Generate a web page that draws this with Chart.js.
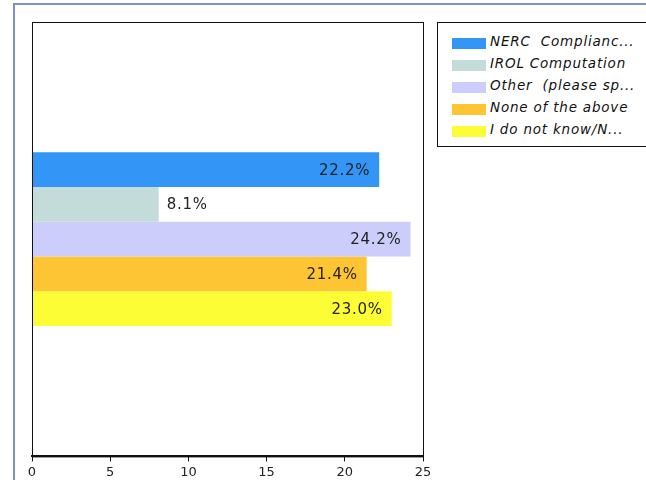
<!DOCTYPE html>
<html>
<head>
<meta charset="utf-8">
<script src="https://cdn.jsdelivr.net/npm/chart.js@4"></script>
<style>
  html, body { margin: 0; padding: 0; background: #fff; }
  body { width: 646px; height: 480px; position: relative; overflow: hidden; }
  #frame { position: absolute; left: 13px; top: 3px; right: -5px; bottom: -5px;
           border-left: 2px solid #7d93c4; border-top: 2px solid #7d93c4; }
  #wrap { position: absolute; left: 0; top: 0; width: 646px; height: 480px; }
  #legend { position: absolute; left: 437px; top: 22px; width: 214px; height: 125px;
            border: 1px solid #111; background: #fff; box-sizing: border-box;
            font-family: "DejaVu Sans", Verdana, sans-serif; font-style: italic;
            font-size: 13.5px; letter-spacing: 0.8px; color: #111; padding-top: 12px; }
  .item { height: 22px; position: relative; white-space: pre; }
  .sw { position: absolute; left: 14px; top: 3px; width: 34px; height: 11px; }
  .txt { position: absolute; left: 52px; top: -2px; }
</style>
</head>
<body>
<div id="frame"></div>
<div id="wrap"><canvas id="chart" width="646" height="480"></canvas></div>
<div id="legend"></div>
<script>
const answers = ['NERC  Complianc...', 'IROL Computation', 'Other  (please sp...', 'None of the above', 'I do not know/N...'];
const percents = [22.2, 8.1, 24.2, 21.4, 23.0];
const colors = ['#3396f7', '#c3dcd9', '#cccdfb', '#fdc534', '#fdfd35'];
const xTicks = [0, 5, 10, 15, 20, 25];

// black box around the plot area
const plotFrame = {
  id: 'plotFrame',
  afterDraw(chart) {
    const a = chart.chartArea, ctx = chart.ctx;
    ctx.save();
    ctx.strokeStyle = '#111';
    ctx.lineWidth = 1;
    ctx.strokeRect(a.left + 0.5, a.top + 0.5, a.right - a.left, a.bottom - a.top);
    ctx.restore();
  }
};

// percent labels at the end of each bar, outside when the bar is short
const barLabels = {
  id: 'barLabels',
  afterDatasetsDraw(chart) {
    const ctx = chart.ctx;
    ctx.save();
    ctx.font = '15px "DejaVu Sans", Verdana, sans-serif';
    ctx.letterSpacing = '0.7px';
    ctx.fillStyle = '#222';
    ctx.textBaseline = 'middle';
    chart.data.datasets.forEach((ds, i) => {
      const bar = chart.getDatasetMeta(i).data[0];
      const text = ds.data[0].toFixed(1) + '%';
      if (ds.data[0] >= 10) {
        ctx.textAlign = 'right';
        ctx.fillText(text, bar.x - 9, bar.y + 1);
      } else {
        ctx.textAlign = 'left';
        ctx.fillText(text, bar.x + 8, bar.y + 1);
      }
    });
    ctx.restore();
  }
};

const datasets = answers.map((name, i) => ({
  label: name,
  data: [percents[i]],
  backgroundColor: colors[i],
  borderWidth: 0,
  categoryPercentage: 0.4,
  barPercentage: 1.0
}));

new Chart(document.getElementById('chart'), {
  type: 'bar',
  data: { labels: [''], datasets: datasets },
  options: {
    indexAxis: 'y',
    responsive: false,
    animation: false,
    layout: { padding: { left: 32, right: 223, top: 22, bottom: -3 } },
    plugins: { legend: { display: false }, tooltip: { enabled: false } },
    scales: {
      y: { display: false },
      x: {
        min: 0, max: 25,
        afterBuildTicks(axis) { axis.ticks = xTicks.map(v => ({ value: v })); },
        grid: { drawOnChartArea: false, drawTicks: true, tickLength: 5, color: '#111' },
        border: { display: true, color: '#111', width: 2 },
        ticks: { color: '#222', padding: 3, maxRotation: 0,
                 font: { family: '"DejaVu Sans", Verdana, sans-serif', size: 13 } }
      }
    }
  },
  plugins: [plotFrame, barLabels]
});

// legend box on the right
const legend = document.getElementById('legend');
answers.forEach((name, i) => {
  const row = document.createElement('div');
  row.className = 'item';
  row.innerHTML = `<span class="sw" style="background:${colors[i]}"></span><span class="txt">${name}</span>`;
  legend.appendChild(row);
});
</script>
</body>
</html>
